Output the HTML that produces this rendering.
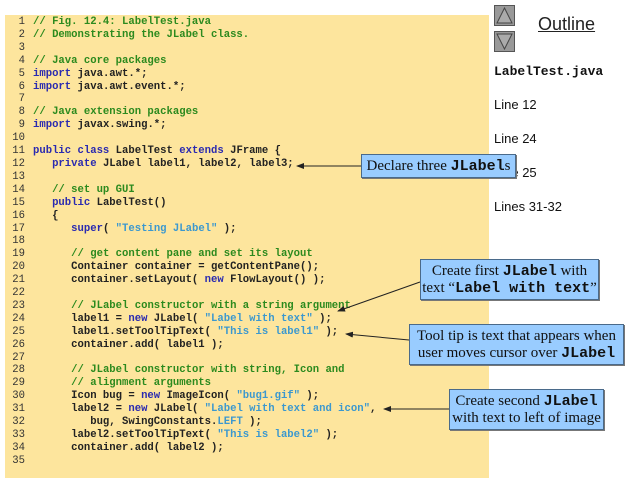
<!DOCTYPE html>
<html><head><meta charset="utf-8"><style>
body{margin:0;width:638px;height:478px;background:#fff;position:relative;overflow:hidden;font-family:"Liberation Sans",sans-serif}
#code{position:absolute;left:5px;top:15px;width:484px;height:463px;background:#fde59d}
pre{position:absolute;left:0;top:0;margin:0;font-family:"Liberation Mono",monospace;font-weight:bold;font-size:10.6px;line-height:12.9px;color:#222}
.n{display:inline-block;width:20px;text-align:right;margin-right:8px;color:#333;font-weight:normal}
.c{color:#2c8a1e}.k{color:#2a2ab0}.s{color:#3b98cf}
.box{position:absolute;background:#99ccff;border:1px solid #4a6a8a;font-family:"Liberation Serif",serif;font-size:15px;text-align:center;line-height:17px;color:#111;box-shadow:1px 1px 0 #777}
.box b{font-family:"Liberation Mono",monospace}
.r{position:absolute;left:494px;font-size:13px;color:#111}
.btn{position:absolute;left:494px;width:19px;height:19px;background:#999;border:1px solid #555}
</style></head><body>
<div id="code"><pre style="top:1px"><span class="n">1</span><span class="c">// Fig. 12.4: LabelTest.java</span>
<span class="n">2</span><span class="c">// Demonstrating the JLabel class.</span>
<span class="n">3</span>
<span class="n">4</span><span class="c">// Java core packages</span>
<span class="n">5</span><span class="k">import</span> java.awt.*;
<span class="n">6</span><span class="k">import</span> java.awt.event.*;
<span class="n">7</span>
<span class="n">8</span><span class="c">// Java extension packages</span>
<span class="n">9</span><span class="k">import</span> javax.swing.*;
<span class="n">10</span>
<span class="n">11</span><span class="k">public class</span> LabelTest <span class="k">extends</span> JFrame {
<span class="n">12</span>   <span class="k">private</span> JLabel label1, label2, label3;
<span class="n">13</span>
<span class="n">14</span>   <span class="c">// set up GUI</span>
<span class="n">15</span>   <span class="k">public</span> LabelTest()
<span class="n">16</span>   {
<span class="n">17</span>      <span class="k">super</span>( <span class="s">"Testing JLabel"</span> );
<span class="n">18</span>
<span class="n">19</span>      <span class="c">// get content pane and set its layout</span>
<span class="n">20</span>      Container container = getContentPane();
<span class="n">21</span>      container.setLayout( <span class="k">new</span> FlowLayout() );
<span class="n">22</span>
<span class="n">23</span>      <span class="c">// JLabel constructor with a string argument</span>
<span class="n">24</span>      label1 = <span class="k">new</span> JLabel( <span class="s">"Label with text"</span> );
<span class="n">25</span>      label1.setToolTipText( <span class="s">"This is label1"</span> );
<span class="n">26</span>      container.add( label1 );
<span class="n">27</span>
<span class="n">28</span>      <span class="c">// JLabel constructor with string, Icon and</span>
<span class="n">29</span>      <span class="c">// alignment arguments</span>
<span class="n">30</span>      Icon bug = <span class="k">new</span> ImageIcon( <span class="s">"bug1.gif"</span> );
<span class="n">31</span>      label2 = <span class="k">new</span> JLabel( <span class="s">"Label with text and icon"</span>,
<span class="n">32</span>         bug, SwingConstants.<span class="s">LEFT</span> );
<span class="n">33</span>      label2.setToolTipText( <span class="s">"This is label2"</span> );
<span class="n">34</span>      container.add( label2 );
<span class="n">35</span></pre></div>

<div class="btn" style="top:5px"><svg width="19" height="19"><polygon points="9.5,2 17,17 2,17" fill="#aaa" stroke="#444"/></svg></div>
<div class="btn" style="top:31px"><svg width="19" height="19"><polygon points="2,2 17,2 9.5,17" fill="#aaa" stroke="#444"/></svg></div>
<div style="position:absolute;left:538px;top:14px;font-size:18px;text-decoration:underline;color:#222">Outline</div>
<div class="r" style="top:64px;font-family:'Liberation Mono',monospace;font-weight:bold;font-size:13px">LabelTest.java</div>
<div class="r" style="top:97px">Line 12</div>
<div class="r" style="top:131px">Line 24</div>
<div class="r" style="top:165px">Line 25</div>
<div class="r" style="top:199px">Lines 31-32</div>

<svg style="position:absolute;left:0;top:0" width="638" height="478">
<defs><marker id="a" markerWidth="8" markerHeight="6" refX="7" refY="3" orient="auto"><path d="M0,0 L8,3 L0,6z" fill="#222"/></marker></defs>
<g stroke="#222" stroke-width="1" marker-end="url(#a)">
<line x1="361" y1="166" x2="297" y2="166"/>
<line x1="420" y1="282" x2="338" y2="311"/>
<line x1="409" y1="340" x2="346" y2="334"/>
<line x1="449" y1="409" x2="384" y2="409"/>
</g></svg>

<div class="box" style="left:361px;top:154px;width:153px;height:22px;line-height:22px">Declare three <b>JLabel</b>s</div>
<div class="box" style="left:420px;top:259px;width:179px;height:41px;padding-top:3px;box-sizing:border-box">Create first <b>JLabel</b> with<br>text “<b>Label with text</b>”</div>
<div class="box" style="left:409px;top:324px;width:215px;height:41px;padding-top:3px;box-sizing:border-box">Tool tip is text that appears when<br>user moves cursor over <b>JLabel</b></div>
<div class="box" style="left:449px;top:389px;width:155px;height:41px;padding-top:3px;box-sizing:border-box">Create second <b>JLabel</b><br>with text to left of image</div>
</body></html>
